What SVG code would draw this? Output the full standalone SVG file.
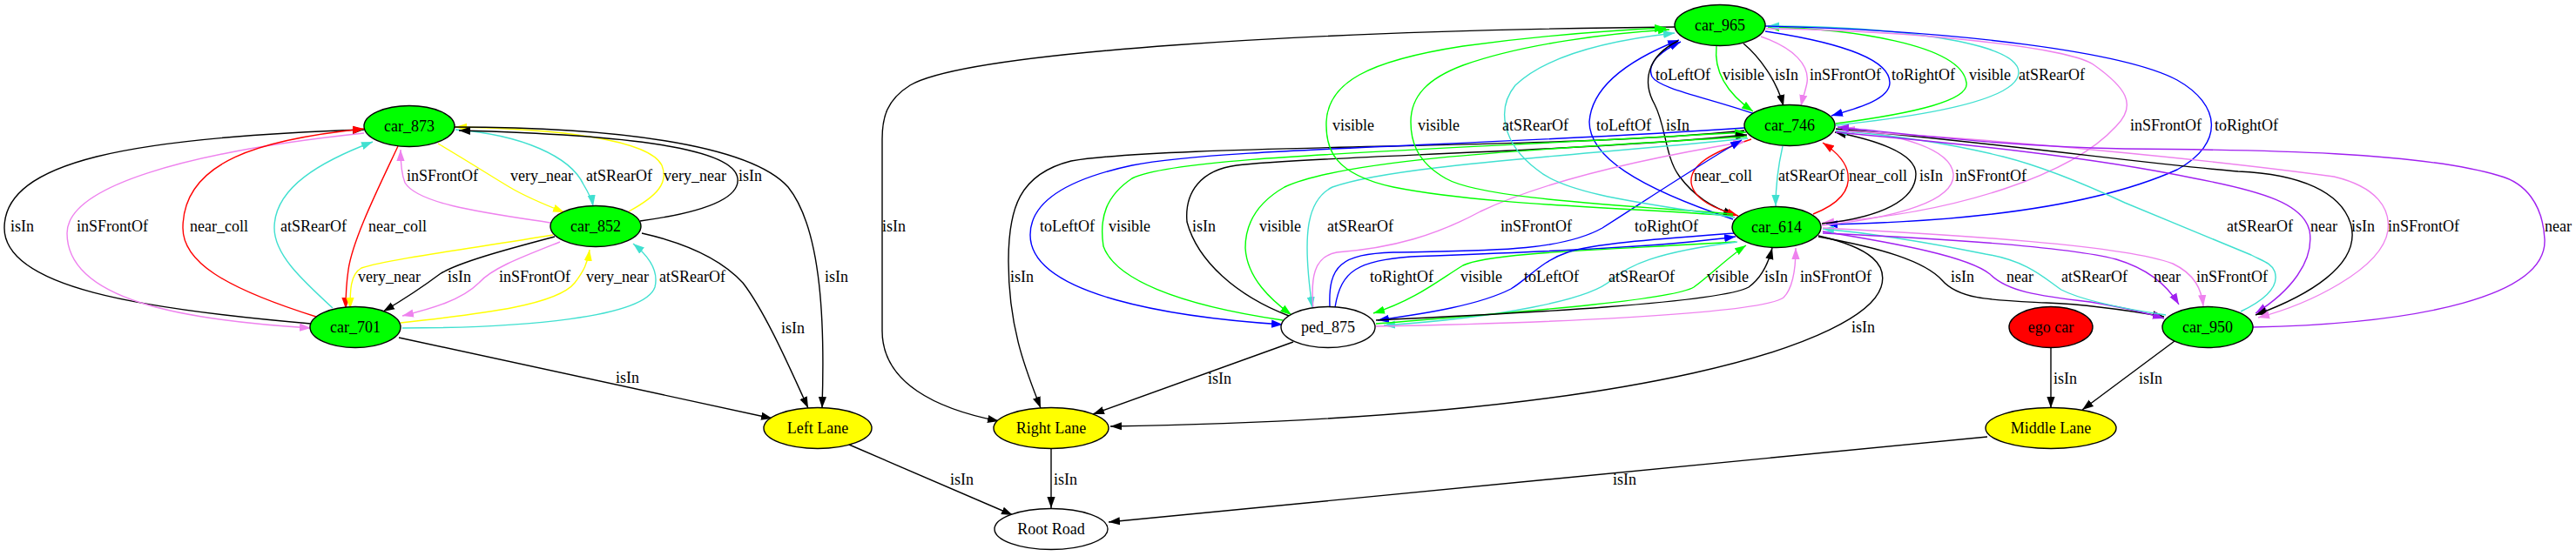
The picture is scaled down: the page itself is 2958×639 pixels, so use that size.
<svg xmlns="http://www.w3.org/2000/svg" width="2958" height="639" viewBox="0 0 2958 639">
<style>
.e{fill:none;stroke-width:1.4}
.k{stroke:#000}.r{stroke:#f00}.y{stroke:#ff0}.t{stroke:#40e0d0}.v{stroke:#ee82ee}.b{stroke:#00f}.g{stroke:#0f0}.p{stroke:#a020f0}
.l{font-family:"Liberation Serif","Times New Roman",serif;font-size:18px;fill:#000}
.n{stroke:#000;stroke-width:1.4}
.nt{font-family:"Liberation Serif","Times New Roman",serif;font-size:18px;fill:#000;text-anchor:middle}
</style>
<defs>
<marker id="mk" viewBox="0 0 13 10" refX="13" refY="5" markerWidth="13" markerHeight="10" orient="auto" markerUnits="userSpaceOnUse"><path d="M0,0.4L13,5L0,9.6z" fill="#000"/></marker>
<marker id="mr" viewBox="0 0 13 10" refX="13" refY="5" markerWidth="13" markerHeight="10" orient="auto" markerUnits="userSpaceOnUse"><path d="M0,0.4L13,5L0,9.6z" fill="#f00"/></marker>
<marker id="my" viewBox="0 0 13 10" refX="13" refY="5" markerWidth="13" markerHeight="10" orient="auto" markerUnits="userSpaceOnUse"><path d="M0,0.4L13,5L0,9.6z" fill="#ff0"/></marker>
<marker id="mt" viewBox="0 0 13 10" refX="13" refY="5" markerWidth="13" markerHeight="10" orient="auto" markerUnits="userSpaceOnUse"><path d="M0,0.4L13,5L0,9.6z" fill="#40e0d0"/></marker>
<marker id="mv" viewBox="0 0 13 10" refX="13" refY="5" markerWidth="13" markerHeight="10" orient="auto" markerUnits="userSpaceOnUse"><path d="M0,0.4L13,5L0,9.6z" fill="#ee82ee"/></marker>
<marker id="mb" viewBox="0 0 13 10" refX="13" refY="5" markerWidth="13" markerHeight="10" orient="auto" markerUnits="userSpaceOnUse"><path d="M0,0.4L13,5L0,9.6z" fill="#00f"/></marker>
<marker id="mg" viewBox="0 0 13 10" refX="13" refY="5" markerWidth="13" markerHeight="10" orient="auto" markerUnits="userSpaceOnUse"><path d="M0,0.4L13,5L0,9.6z" fill="#0f0"/></marker>
<marker id="mp" viewBox="0 0 13 10" refX="13" refY="5" markerWidth="13" markerHeight="10" orient="auto" markerUnits="userSpaceOnUse"><path d="M0,0.4L13,5L0,9.6z" fill="#a020f0"/></marker>
</defs>
<rect width="2958" height="639" fill="#fff"/>
<g id="connectors">
<path class="e k" marker-end="url(#mk)" d="M357,372 C160,355 5,330 5,262 C5,185 150,158 418,149"/>
<path class="e v" marker-end="url(#mv)" d="M418,153 C210,175 77,215 77,268 C77,345 210,368 357,377"/>
<path class="e r" marker-end="url(#mr)" d="M363,364 C255,330 210,300 210,262 C210,185 300,160 418,148"/>
<path class="e t" marker-end="url(#mt)" d="M382,354 C345,320 315,292 315,262 C315,215 370,185 428,163"/>
<path class="e r" marker-end="url(#mr)" d="M457,168 C435,215 405,275 400,310 C397,330 397,340 397,355"/>
<path class="e v" marker-end="url(#mv)" d="M632,256 C560,245 480,235 465,210 C461,200 460,190 460,172"/>
<path class="e y" marker-end="url(#my)" d="M503,165 C545,190 560,200 585,215 C605,227 625,235 648,244"/>
<path class="e t" marker-end="url(#mt)" d="M523,149 C600,155 655,180 670,212 C676,222 680,230 681,237"/>
<path class="e y" marker-end="url(#my)" d="M722,243 C755,225 768,210 760,190 C745,160 640,148 523,146"/>
<path class="e k" marker-end="url(#mk)" d="M735,254 C800,245 850,230 847,205 C843,170 720,155 527,150"/>
<path class="e k" marker-end="url(#mk)" d="M522,146 C700,146 860,165 905,215 C945,265 947,380 944,469"/>
<path class="e k" marker-end="url(#mk)" d="M737,268 C790,280 830,300 853,325 C880,360 910,430 928,469"/>
<path class="e k" marker-end="url(#mk)" d="M458,388 L887,481"/>
<path class="e y" marker-end="url(#my)" d="M635,270 C545,285 445,298 415,308 C402,315 402,335 402,355"/>
<path class="e k" marker-end="url(#mk)" d="M637,272 C580,287 525,302 505,315 C485,330 462,345 440,358"/>
<path class="e v" marker-end="url(#mv)" d="M643,278 C600,295 565,308 550,325 C530,345 495,355 462,363"/>
<path class="e y" marker-end="url(#my)" d="M460,371 C560,360 640,350 660,325 C670,312 675,302 677,287"/>
<path class="e t" marker-end="url(#mt)" d="M462,377 C600,377 740,365 752,330 C757,310 742,292 727,280"/>
<path class="e k" marker-end="url(#mk)" d="M975,511 L1163,592"/>
<path class="e k" marker-end="url(#mk)" d="M1923,31 C1500,35 1110,60 1045,98 C1018,115 1013,135 1013,160 L1013,380 C1013,440 1075,470 1147,484"/>
<path class="e k" marker-end="url(#mk)" d="M2003,150 C1800,172 1350,165 1230,185 C1170,200 1158,240 1158,300 C1158,380 1180,430 1195,469"/>
<path class="e k" marker-end="url(#mk)" d="M1485,393 L1255,476"/>
<path class="e k" marker-end="url(#mk)" d="M2088,271 C2150,285 2168,305 2160,330 C2140,390 1900,480 1275,490"/>
<path class="e k" marker-end="url(#mk)" d="M1207,516 L1207,584"/>
<path class="e k" marker-end="url(#mk)" d="M2282,502 L1273,600"/>
<path class="e k" marker-end="url(#mk)" d="M2355,400 L2355,469"/>
<path class="e k" marker-end="url(#mk)" d="M2497,392 L2391,471"/>
<path class="e b" marker-end="url(#mb)" d="M2015,131 C1960,112 1905,102 1897,88 C1890,72 1910,57 1930,48"/>
<path class="e b" marker-end="url(#mb)" d="M1990,252 C1880,215 1825,180 1825,140 C1828,95 1880,65 1928,46"/>
<path class="e k" marker-end="url(#mk)" d="M1927,47 C1890,65 1886,95 1900,120 C1913,145 1912,180 1928,202 C1945,225 1965,238 1992,247"/>
<path class="e g" marker-end="url(#mg)" d="M1971,53 C1968,80 1980,105 2013,128"/>
<path class="e k" marker-end="url(#mk)" d="M2002,50 C2020,65 2040,92 2048,122"/>
<path class="e v" marker-end="url(#mv)" d="M2022,42 C2060,55 2078,75 2075,95 C2073,105 2070,113 2068,122"/>
<path class="e b" marker-end="url(#mb)" d="M2027,36 C2120,50 2170,70 2170,95 C2170,115 2130,125 2103,133"/>
<path class="e g" marker-end="url(#mg)" d="M2108,142 C2200,130 2262,115 2258,95 C2252,50 2120,33 2030,31"/>
<path class="e t" marker-end="url(#mt)" d="M2108,144 C2240,130 2318,110 2318,83 C2318,45 2150,30 2030,30"/>
<path class="e v" marker-end="url(#mv)" d="M2028,33 C2200,35 2380,55 2405,75 C2440,100 2455,120 2430,145 C2380,200 2250,245 2093,256"/>
<path class="e b" marker-end="url(#mb)" d="M2027,30 C2250,35 2440,60 2500,92 C2550,120 2555,165 2500,195 C2400,240 2250,255 2097,258"/>
<path class="e r" marker-end="url(#mr)" d="M2011,160 C1965,175 1940,190 1942,210 C1945,230 1970,240 1996,248"/>
<path class="e t" marker-end="url(#mt)" d="M2047,168 C2042,190 2039,210 2039,237"/>
<path class="e r" marker-end="url(#mr)" d="M2082,246 C2110,235 2125,220 2122,200 C2120,185 2105,172 2093,164"/>
<path class="e k" marker-end="url(#mk)" d="M2092,257 C2160,250 2200,230 2200,200 C2200,175 2150,160 2107,152"/>
<path class="e v" marker-end="url(#mv)" d="M2092,259 C2180,250 2245,230 2243,200 C2240,170 2180,155 2117,148"/>
<path class="e t" marker-end="url(#mt)" d="M2573,358 C2600,345 2618,330 2612,312 C2608,302 2598,300 2585,293 L2440,233 C2380,205 2340,190 2300,180 C2240,165 2170,155 2108,150"/>
<path class="e p" marker-end="url(#mp)" d="M2108,152 C2250,165 2400,180 2520,205 C2600,220 2645,235 2652,265 C2658,300 2630,335 2590,360"/>
<path class="e k" marker-end="url(#mk)" d="M2108,148 C2300,165 2480,190 2570,197 C2640,200 2690,220 2700,260 C2710,305 2650,340 2590,362"/>
<path class="e v" marker-end="url(#mv)" d="M2110,150 C2300,160 2550,185 2680,203 C2730,215 2745,240 2742,265 C2735,310 2650,350 2593,365"/>
<path class="e p" marker-end="url(#mp)" d="M2587,376 C2780,372 2925,340 2922,275 C2920,235 2900,210 2870,202 C2780,175 2600,172 2440,171 C2300,168 2200,155 2110,146"/>
<path class="e k" marker-end="url(#mk)" d="M2088,272 C2160,285 2210,300 2230,322 C2250,345 2290,345 2350,348 C2400,350 2440,356 2485,364"/>
<path class="e p" marker-end="url(#mp)" d="M2093,266 C2180,280 2260,295 2285,315 C2305,335 2340,340 2400,347 C2430,352 2460,358 2485,366"/>
<path class="e t" marker-end="url(#mt)" d="M2487,362 C2440,355 2390,345 2367,333 C2350,322 2330,300 2280,292 C2220,280 2150,268 2093,263"/>
<path class="e p" marker-end="url(#mp)" d="M2093,268 C2250,275 2380,285 2430,298 C2470,310 2490,330 2502,350"/>
<path class="e v" marker-end="url(#mv)" d="M2093,262 C2250,270 2440,282 2495,303 C2520,315 2528,332 2530,352"/>
<path class="e b" marker-end="url(#mb)" d="M2003,147 C1700,168 1400,170 1300,190 C1230,205 1183,230 1183,270 C1183,340 1350,365 1473,373"/>
<path class="e g" marker-end="url(#mg)" d="M1473,368 C1350,350 1280,320 1267,283 C1262,250 1270,225 1300,205 C1350,180 1600,175 2005,152"/>
<path class="e k" marker-end="url(#mk)" d="M1480,363 C1420,340 1375,300 1363,255 C1360,220 1380,195 1420,190 C1500,180 1800,175 2006,155"/>
<path class="e g" marker-end="url(#mg)" d="M2006,157 C1800,170 1550,180 1475,215 C1440,235 1430,260 1430,285 C1432,320 1460,345 1483,362"/>
<path class="e t" marker-end="url(#mt)" d="M2007,159 C1800,180 1600,190 1530,215 C1500,230 1495,270 1507,354"/>
<path class="e v" marker-end="url(#mv)" d="M1508,355 C1505,320 1508,295 1535,290 C1600,285 1650,270 1700,243 C1780,205 1900,180 2003,163"/>
<path class="e b" marker-end="url(#mb)" d="M1527,353 C1525,305 1540,292 1600,290 C1700,288 1790,290 1840,262 C1890,230 1950,190 2000,161"/>
<path class="e b" marker-end="url(#mb)" d="M1533,353 C1540,310 1560,300 1620,295 C1750,290 1900,285 1993,272"/>
<path class="e g" marker-end="url(#mg)" d="M1993,278 C1850,287 1710,290 1680,305 C1655,320 1625,345 1577,360"/>
<path class="e b" marker-end="url(#mb)" d="M1992,268 C1900,275 1830,280 1800,290 C1770,300 1755,320 1735,332 C1700,350 1640,360 1582,368"/>
<path class="e t" marker-end="url(#mt)" d="M1995,278 C1900,290 1870,305 1850,322 C1825,345 1720,365 1589,374"/>
<path class="e g" marker-end="url(#mg)" d="M1580,372 C1750,358 1920,345 1945,330 C1962,318 1985,295 2005,282"/>
<path class="e k" marker-end="url(#mk)" d="M1580,368 C1750,360 1975,348 2008,330 C2022,320 2030,305 2035,285"/>
<path class="e v" marker-end="url(#mv)" d="M1580,375 C1750,372 2020,362 2048,342 C2060,330 2062,305 2062,285"/>
<path class="e g" marker-end="url(#mg)" d="M1990,248 C1850,238 1700,235 1600,215 C1530,200 1522,170 1523,140 C1525,95 1570,70 1680,53 C1760,42 1850,35 1913,32"/>
<path class="e g" marker-end="url(#mg)" d="M1990,246 C1850,235 1700,228 1660,205 C1625,185 1620,160 1620,140 C1620,110 1640,90 1680,75 C1750,50 1850,38 1917,34"/>
<path class="e t" marker-end="url(#mt)" d="M1992,250 C1900,235 1800,225 1765,195 C1725,165 1718,125 1740,98 C1780,60 1860,45 1923,38"/>
</g>
<g id="labels" class="l">
<text x="12" y="266">isIn</text>
<text x="88" y="266">inSFrontOf</text>
<text x="218" y="266">near_coll</text>
<text x="322" y="266">atSRearOf</text>
<text x="423" y="266">near_coll</text>
<text x="467" y="208">inSFrontOf</text>
<text x="586" y="208">very_near</text>
<text x="673" y="208">atSRearOf</text>
<text x="762" y="208">very_near</text>
<text x="848" y="208">isIn</text>
<text x="411" y="324">very_near</text>
<text x="514" y="324">isIn</text>
<text x="573" y="324">inSFrontOf</text>
<text x="673" y="324">very_near</text>
<text x="757" y="324">atSRearOf</text>
<text x="947" y="324">isIn</text>
<text x="897" y="383">isIn</text>
<text x="707" y="440">isIn</text>
<text x="1091" y="557">isIn</text>
<text x="1210" y="557">isIn</text>
<text x="1852" y="557">isIn</text>
<text x="2358" y="441">isIn</text>
<text x="2456" y="441">isIn</text>
<text x="1387" y="441">isIn</text>
<text x="2126" y="382">isIn</text>
<text x="1901" y="92">toLeftOf</text>
<text x="1978" y="92">visible</text>
<text x="2038" y="92">isIn</text>
<text x="2078" y="92">inSFrontOf</text>
<text x="2172" y="92">toRightOf</text>
<text x="2261" y="92">visible</text>
<text x="2318" y="92">atSRearOf</text>
<text x="1530" y="150">visible</text>
<text x="1628" y="150">visible</text>
<text x="1725" y="150">atSRearOf</text>
<text x="1833" y="150">toLeftOf</text>
<text x="1913" y="150">isIn</text>
<text x="2446" y="150">inSFrontOf</text>
<text x="2543" y="150">toRightOf</text>
<text x="1945" y="208">near_coll</text>
<text x="2042" y="208">atSRearOf</text>
<text x="2123" y="208">near_coll</text>
<text x="2204" y="208">isIn</text>
<text x="2245" y="208">inSFrontOf</text>
<text x="1013" y="266">isIn</text>
<text x="1194" y="266">toLeftOf</text>
<text x="1273" y="266">visible</text>
<text x="1369" y="266">isIn</text>
<text x="1446" y="266">visible</text>
<text x="1524" y="266">atSRearOf</text>
<text x="1723" y="266">inSFrontOf</text>
<text x="1877" y="266">toRightOf</text>
<text x="2557" y="266">atSRearOf</text>
<text x="2653" y="266">near</text>
<text x="2700" y="266">isIn</text>
<text x="2742" y="266">inSFrontOf</text>
<text x="2922" y="266">near</text>
<text x="1160" y="324">isIn</text>
<text x="1573" y="324">toRightOf</text>
<text x="1677" y="324">visible</text>
<text x="1750" y="324">toLeftOf</text>
<text x="1847" y="324">atSRearOf</text>
<text x="1960" y="324">visible</text>
<text x="2026" y="324">isIn</text>
<text x="2067" y="324">inSFrontOf</text>
<text x="2240" y="324">isIn</text>
<text x="2304" y="324">near</text>
<text x="2367" y="324">atSRearOf</text>
<text x="2473" y="324">near</text>
<text x="2522" y="324">inSFrontOf</text>
</g>
<g id="car_873"><ellipse class="n" cx="470" cy="145" rx="52" ry="23.5" fill="#0f0"/><text class="nt" x="470" y="151">car_873</text></g>
<g id="car_852"><ellipse class="n" cx="684" cy="260" rx="52" ry="23.5" fill="#0f0"/><text class="nt" x="684" y="266">car_852</text></g>
<g id="car_701"><ellipse class="n" cx="408" cy="376" rx="52" ry="23.5" fill="#0f0"/><text class="nt" x="408" y="382">car_701</text></g>
<g id="left_lane"><ellipse class="n" cx="939" cy="492" rx="62" ry="23.5" fill="#ff0"/><text class="nt" x="939" y="498">Left Lane</text></g>
<g id="right_lane"><ellipse class="n" cx="1207" cy="492" rx="66" ry="23.5" fill="#ff0"/><text class="nt" x="1207" y="498">Right Lane</text></g>
<g id="root_road"><ellipse class="n" cx="1207" cy="608" rx="65" ry="23.5" fill="#fff"/><text class="nt" x="1207" y="614">Root Road</text></g>
<g id="ped_875"><ellipse class="n" cx="1525" cy="376" rx="54" ry="23.5" fill="#fff"/><text class="nt" x="1525" y="382">ped_875</text></g>
<g id="car_965"><ellipse class="n" cx="1975" cy="29" rx="52" ry="23.5" fill="#0f0"/><text class="nt" x="1975" y="35">car_965</text></g>
<g id="car_746"><ellipse class="n" cx="2055" cy="144" rx="52" ry="23.5" fill="#0f0"/><text class="nt" x="2055" y="150">car_746</text></g>
<g id="car_614"><ellipse class="n" cx="2040" cy="261" rx="51" ry="23.5" fill="#0f0"/><text class="nt" x="2040" y="267">car_614</text></g>
<g id="ego_car"><ellipse class="n" cx="2355" cy="376" rx="48" ry="23.5" fill="#f00"/><text class="nt" x="2355" y="382">ego car</text></g>
<g id="car_950"><ellipse class="n" cx="2535" cy="376" rx="52" ry="23.5" fill="#0f0"/><text class="nt" x="2535" y="382">car_950</text></g>
<g id="middle_lane"><ellipse class="n" cx="2355" cy="492" rx="75" ry="23.5" fill="#ff0"/><text class="nt" x="2355" y="498">Middle Lane</text></g>
</svg>
